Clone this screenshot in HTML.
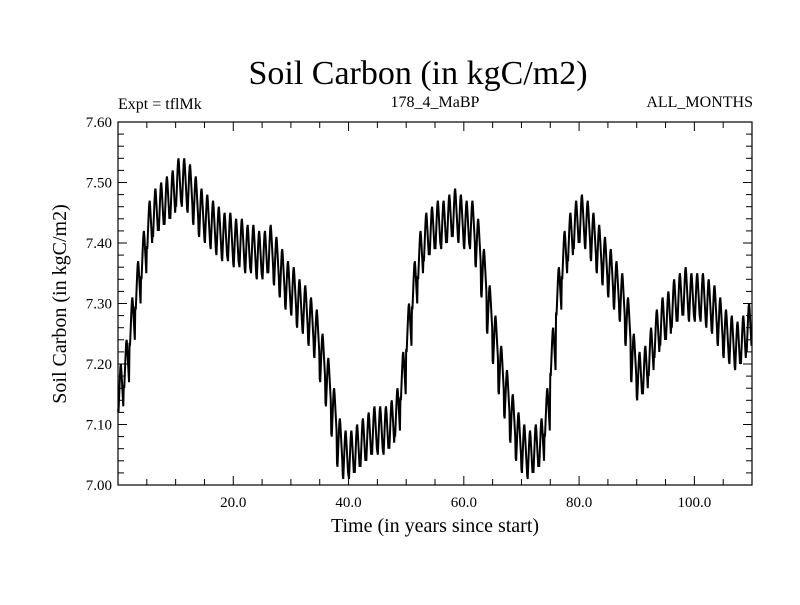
<!DOCTYPE html>
<html><head><meta charset="utf-8"><style>
body{margin:0;background:#fff}
svg text{font-family:"Liberation Serif",serif;fill:#000}
</style></head><body>
<svg id="chart" width="800" height="600">
<text x="418" y="84" font-size="34" text-anchor="middle">Soil Carbon (in kgC/m2)</text>
<text x="118" y="109" font-size="16">Expt = tflMk</text>
<text x="435" y="107" font-size="16" text-anchor="middle">178_4_MaBP</text>
<text x="753" y="107" font-size="16" text-anchor="end">ALL_MONTHS</text>
<text x="435" y="532" font-size="20" text-anchor="middle">Time (in years since start)</text>
<text transform="translate(66,304) rotate(-90)" font-size="20" text-anchor="middle">Soil Carbon (in kgC/m2)</text>
<g id="axes"></g>
<path id="series" fill="none" stroke="#000" stroke-width="2"/>
<rect x="118" y="122" width="634" height="363" fill="none" stroke="#000" stroke-width="1.2"/>
</svg>
<script>
const annualMeans=[7.16,7.20,7.27,7.33,7.38,7.43,7.45,7.46,7.47,7.48,7.50,7.50,7.49,7.47,7.45,7.44,7.43,7.42,7.41,7.41,7.40,7.40,7.39,7.39,7.38,7.38,7.39,7.37,7.35,7.33,7.32,7.30,7.29,7.27,7.25,7.21,7.17,7.12,7.07,7.05,7.05,7.06,7.07,7.08,7.09,7.09,7.09,7.10,7.12,7.18,7.26,7.33,7.38,7.41,7.42,7.43,7.43,7.44,7.45,7.44,7.43,7.43,7.40,7.35,7.29,7.24,7.19,7.15,7.11,7.08,7.06,7.05,7.06,7.07,7.12,7.22,7.32,7.38,7.41,7.43,7.44,7.43,7.41,7.39,7.37,7.35,7.33,7.31,7.27,7.21,7.18,7.19,7.22,7.25,7.27,7.28,7.30,7.31,7.32,7.31,7.31,7.31,7.30,7.29,7.27,7.25,7.24,7.23,7.24,7.26];
const seasonalOffsets=[-0.035,-0.04,-0.02,0.0,0.02,0.035,0.04,0.03,0.015,0.0,-0.015,-0.03];
const xTickValues=[20,40,60,80,100];
const xTickLabels=["20.0","40.0","60.0","80.0","100.0"];
const yTickValues=[7.0,7.1,7.2,7.3,7.4,7.5,7.6];
const yTickLabels=["7.00","7.10","7.20","7.30","7.40","7.50","7.60"];
const X0=118,X1=752,Y0=485,Y1=122,XMAX=110,YMIN=7.0,YMAX=7.6;
const xs=v=>X0+(v/XMAX)*(X1-X0);
const ys=v=>Y0-(v-YMIN)/(YMAX-YMIN)*(Y0-Y1);
const ns="http://www.w3.org/2000/svg";
const axes=document.getElementById('axes');
function ln(x1,y1,x2,y2,name){const l=document.createElementNS(ns,'line');
l.setAttribute('x1',x1);l.setAttribute('y1',y1);l.setAttribute('x2',x2);l.setAttribute('y2',y2);
l.setAttribute('stroke','#000');l.setAttribute('stroke-width','1');


axes.appendChild(l);}
function tx(x,y,s,anchor,name){const t=document.createElementNS(ns,'text');
t.setAttribute('x',x);t.setAttribute('y',y);t.setAttribute('font-size','15');t.setAttribute('text-anchor',anchor);t.textContent=s;


axes.appendChild(t);}
for(let v=5;v<XMAX;v+=5){const major=v%20===0;const L=major?9:6;
ln(xs(v),Y0,xs(v),Y0-L,'x-tick');ln(xs(v),Y1,xs(v),Y1+L,'x-tick-top');}
xTickValues.forEach((v,i)=>tx(xs(v),Y0+22,xTickLabels[i],'middle','x-tick-label'));
for(let k=1;k<30;k++){const v=YMIN+k*0.02;const major=k%5===0;const L=major?9:6;
ln(X0,ys(v),X0+L,ys(v),'y-tick');ln(X1,ys(v),X1-L,ys(v),'y-tick-right');}
yTickValues.forEach((v,i)=>tx(X0-6,ys(v)+5,yTickLabels[i],'end','y-tick-label'));
let d='';
annualMeans.forEach((m,yr)=>{seasonalOffsets.forEach((o,mo)=>{const t=yr+mo/12;
d+=(d?'L':'M')+xs(t).toFixed(2)+','+ys(m+o).toFixed(2);});});
document.getElementById('series').setAttribute('d',d);
</script>
</body></html>
